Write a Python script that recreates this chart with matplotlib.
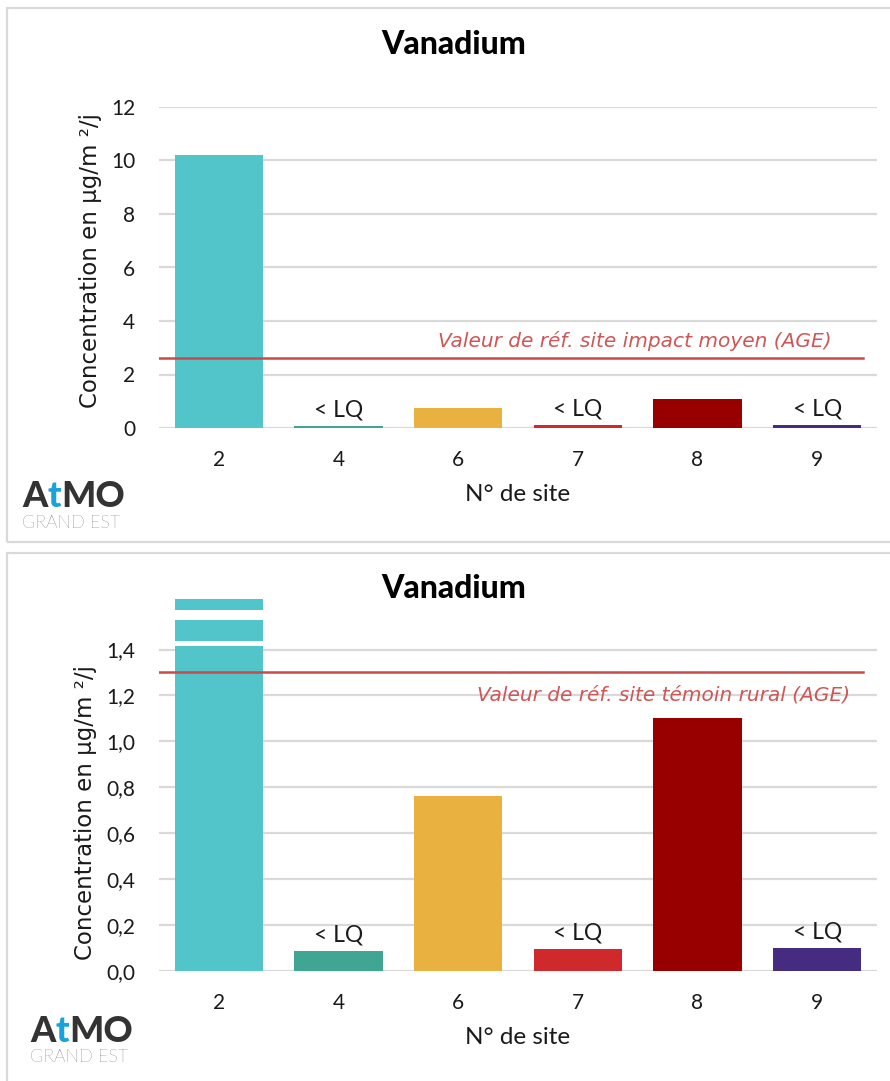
import matplotlib
matplotlib.use("Agg")
import matplotlib.pyplot as plt
from matplotlib.patches import Rectangle
from matplotlib.font_manager import FontProperties
from matplotlib.transforms import blended_transform_factory

plt.rcParams['font.family'] = ['Lato', 'DejaVu Sans']

# data
sites = ['2', '4', '6', '7', '8', '9']
vanadium = [10.2, 0.085, 0.76, 0.095, 1.1, 0.1]
below_lq = [False, True, False, True, False, True]
bar_colors = ['#52C5CA', '#3FA694', '#E9B240', '#D0292B', '#980000', '#462C80']

ref_impact = 2.6
ref_impact_label = 'Valeur de réf. site impact moyen (AGE)'
ref_rural = 1.3
ref_rural_label = 'Valeur de réf. site témoin rural (AGE)'

top_ticks = [0, 2, 4, 6, 8, 10, 12]
zoom_ticks = [0.0, 0.2, 0.4, 0.6, 0.8, 1.0, 1.2, 1.4]
zoom_top = 1.62
# white cuts drawn across the clipped bar of site 2
bar_cuts = [(1.414, 1.436), (1.529, 1.571)]

W, H = 890, 1081
fig = plt.figure(figsize=(W / 100, H / 100), dpi=100)
fig.patch.set_facecolor('white')

GRID = '#D9D9D9'
RED = '#C94A4A'
INK = '#1a1a1a'
ylab_font = FontProperties(family='DejaVu Sans', size=16.5)
ref_font = FontProperties(family='DejaVu Sans', style='oblique', size=14.5)


def fx(px):
    return px / W


def fy(py):
    return 1 - py / H


# panel frames
for top, bottom in [(8, 542), (553, 1100)]:
    fig.patches.append(Rectangle((fx(7), fy(bottom)), fx(900), fy(top) - fy(bottom),
                                 transform=fig.transFigure, fill=False,
                                 edgecolor='#D9D9D9', lw=1.6))


def base_axes(rect):
    ax = fig.add_axes(rect)
    x = list(range(len(sites)))
    ax.bar(x, vanadium, width=0.74, color=bar_colors, zorder=3)
    ax.set_xlim(-0.5, len(sites) - 0.5)
    ax.set_xticks(x)
    ax.set_xticklabels(sites)
    for s in ax.spines.values():
        s.set_visible(False)
    ax.yaxis.grid(True, color=GRID, lw=1.6, zorder=0)
    ax.set_axisbelow(True)
    ax.tick_params(axis='both', length=0, labelsize=15, colors=INK)
    ax.tick_params(axis='x', pad=16)
    ax.tick_params(axis='y', pad=17)
    ax.set_xlabel('N° de site', fontsize=17.5, color=INK, labelpad=10)
    for xi, v, lq in zip(x, vanadium, below_lq):
        if lq:
            ax.annotate('< LQ', (xi, v), xytext=(0, 4), textcoords='offset points',
                        ha='center', va='bottom', fontsize=16.5, color=INK, zorder=5)
    return ax


def y_title(ax, xpos, ypos):
    ax.set_ylabel('Concentration en µg/m ²/j', fontproperties=ylab_font, color=INK)
    ax.yaxis.set_label_coords(xpos, ypos)


# upper chart, full scale
ax1 = base_axes([fx(159), fy(428), fx(718), (428 - 107) / H])
ax1.set_ylim(0, 12)
ax1.set_yticks(top_ticks)
ax1.set_yticklabels([str(t) for t in top_ticks])
ax1.axhline(ref_impact, xmin=0, xmax=0.98, color=RED, lw=1.8, zorder=4)
tr1 = blended_transform_factory(ax1.transAxes, ax1.transData)
ax1.text(0.937, ref_impact + 0.65, ref_impact_label, transform=tr1, ha='right', va='center',
         fontproperties=ref_font, color='#D05555', zorder=5)
y_title(ax1, -0.080, 0.523)

# lower chart, zoomed scale with broken bar
ax2 = base_axes([fx(159), fy(971), fx(718), (971 - 599) / H])
ax2.set_ylim(0, zoom_top)
ax2.set_yticks(zoom_ticks)
ax2.set_yticklabels([f'{t:.1f}'.replace('.', ',') for t in zoom_ticks])
for lo, hi in bar_cuts:
    ax2.bar(0, hi - lo, bottom=lo, width=0.80, color='white', zorder=3.5)
ax2.axhline(ref_rural, xmin=0, xmax=0.98, color=RED, lw=1.8, zorder=4)
tr2 = blended_transform_factory(ax2.transAxes, ax2.transData)
ax2.text(0.962, ref_rural - 0.10, ref_rural_label, transform=tr2, ha='right', va='center',
         fontproperties=ref_font, color='#D05555', zorder=5)
y_title(ax2, -0.086, 0.427)

# chart titles
fig.text(fx(454), fy(44), 'Vanadium', ha='center', va='center', fontsize=23,
         fontweight='black', color='black')
fig.text(fx(454), fy(588), 'Vanadium', ha='center', va='center', fontsize=23,
         fontweight='black', color='black')


# logos
def logo(x0, base_y, sub_y):
    renderer = fig.canvas.get_renderer()
    x = fx(x0)
    for part, col in [('A', '#333333'), ('t', '#1AA3D9'), ('MO', '#333333')]:
        t = fig.text(x, fy(base_y), part, ha='left', va='baseline', fontsize=26,
                     fontweight='black', color=col)
        bb = t.get_window_extent(renderer)
        x = bb.x1 / W
    fig.text(fx(x0), fy(sub_y), 'GRAND EST', ha='left', va='baseline', fontsize=13,
             fontweight='light', color='#2e2e2e')


logo(22, 507, 528)
logo(30, 1042, 1062)

fig.savefig('out.png', dpi=100)
